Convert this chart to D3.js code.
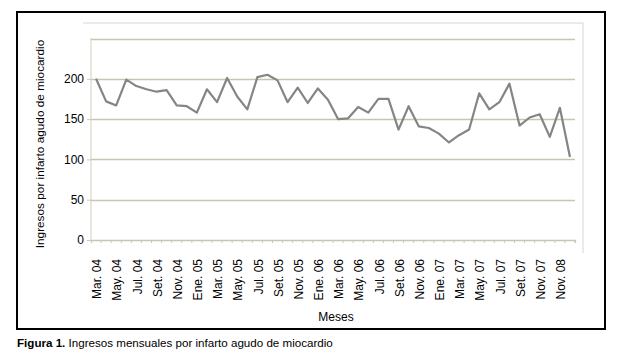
<!DOCTYPE html>
<html><head><meta charset="utf-8">
<script src="https://cdn.jsdelivr.net/npm/d3@7"></script>
<style>body{margin:0;background:#fff}svg{display:block;font-family:"Liberation Sans",Arial,sans-serif}</style>
</head><body><svg id="c" width="624" height="359"></svg>
<script>
const months = ["Mar. 04","Abr. 04","May. 04","Jun. 04","Jul. 04","Ago. 04","Set. 04","Oct. 04","Nov. 04","Dic. 04",
"Ene. 05","Feb. 05","Mar. 05","Abr. 05","May. 05","Jun. 05","Jul. 05","Ago. 05","Set. 05","Oct. 05","Nov. 05","Dic. 05",
"Ene. 06","Feb. 06","Mar. 06","Abr. 06","May. 06","Jun. 06","Jul. 06","Ago. 06","Set. 06","Oct. 06","Nov. 06","Dic. 06",
"Ene. 07","Feb. 07","Mar. 07","Abr. 07","May. 07","Jun. 07","Jul. 07","Ago. 07","Set. 07","Oct. 07","Nov. 07","Dic. 07",
"Ene. 08","Feb. 08"];
const ingresos = [200,172,167,199,191,187,184,186,167,166,158,187,171,201,178,162,202,205,198,171,189,170,188,174,
150,151,165,158,175,175,137,166,141,139,132,121,130,137,182,162,171,194,142,152,156,128,164,103];
const tickLabels = ["Mar. 04","May. 04","Jul. 04","Set. 04","Nov. 04","Ene. 05","Mar. 05","May. 05","Jul. 05","Set. 05","Nov. 05",
"Ene. 06","Mar. 06","May. 06","Jul. 06","Set. 06","Nov. 06","Ene. 07","Mar. 07","May. 07","Jul. 07","Set. 07","Nov. 07","Nov. 08"];
const yTicks = [0,50,100,150,200];
const gridValues = [50,100,150,200,250];

const svg = d3.select("#c");
const x = d3.scaleBand().domain(months).range([91, 575]);
const y = d3.scaleLinear().domain([0, 250]).range([240, 38.5]);

// outer frame
svg.append("rect").attr("x",17).attr("y",12).attr("width",588).attr("height",317)
  .attr("fill","#fff").attr("stroke","#000").attr("stroke-width",2);

// plot area border (top & right)
svg.append("path").attr("d","M83,23H583V253").attr("fill","none").attr("stroke","#d4d4e0").attr("stroke-width",1);

// gridlines
svg.append("g").selectAll("line").data(gridValues).join("line")
  .attr("x1",91).attr("x2",575).attr("y1",d=>Math.round(y(d))+0.5).attr("y2",d=>Math.round(y(d))+0.5)
  .attr("stroke","#c6c6aa").attr("stroke-width",1.3);

// y axis
const ya = svg.append("g").attr("transform","translate(91,0)")
  .call(d3.axisLeft(y).tickValues(yTicks).tickSize(4).tickPadding(3));
ya.select(".domain").attr("stroke","#d0d0c0").attr("d","M0,38V240");
ya.selectAll(".tick line").attr("stroke","#c8c8b8");
ya.selectAll("text").attr("font-size",12).attr("fill","#000").attr("font-family","Liberation Sans, Arial, sans-serif");

// x axis
const xa = svg.append("g").attr("transform","translate(0,240)")
  .call(d3.axisBottom(x).tickValues(months).tickSize(3).tickFormat(""));
xa.select(".domain").attr("stroke","#c8c8b0").attr("stroke-width",1.3);
xa.selectAll(".tick line").attr("stroke","#c8c8b8").attr("transform",`translate(${x.bandwidth()/2},0)`);
svg.append("g").selectAll("text").data(tickLabels).join("text")
  .attr("transform",(d,i)=>`translate(${x(months[i*2])+x.bandwidth()/2+1},259) rotate(-90)`)
  .attr("text-anchor","end").attr("dy","0.35em").attr("font-size",12).text(d=>d);

// line
const line = d3.line().x((d,i)=>x(months[i])+x.bandwidth()/2).y(d=>y(d));
svg.append("path").datum(ingresos).attr("d",line).attr("fill","none")
  .attr("stroke","#858585").attr("stroke-width",2.2).attr("stroke-linejoin","round");

// axis titles
svg.append("text").attr("transform","translate(44,144) rotate(-90)").attr("text-anchor","middle")
  .attr("font-size",11.8).text("Ingresos por infarto agudo de miocardio");
svg.append("text").attr("x",336).attr("y",321).attr("text-anchor","middle").attr("font-size",12).text("Meses");

// caption
const cap = svg.append("text").attr("x",17).attr("y",347).attr("font-size",11.6);
cap.append("tspan").attr("font-weight","bold").text("Figura 1.");
cap.append("tspan").text(" Ingresos mensuales por infarto agudo de miocardio");
</script></body></html>
